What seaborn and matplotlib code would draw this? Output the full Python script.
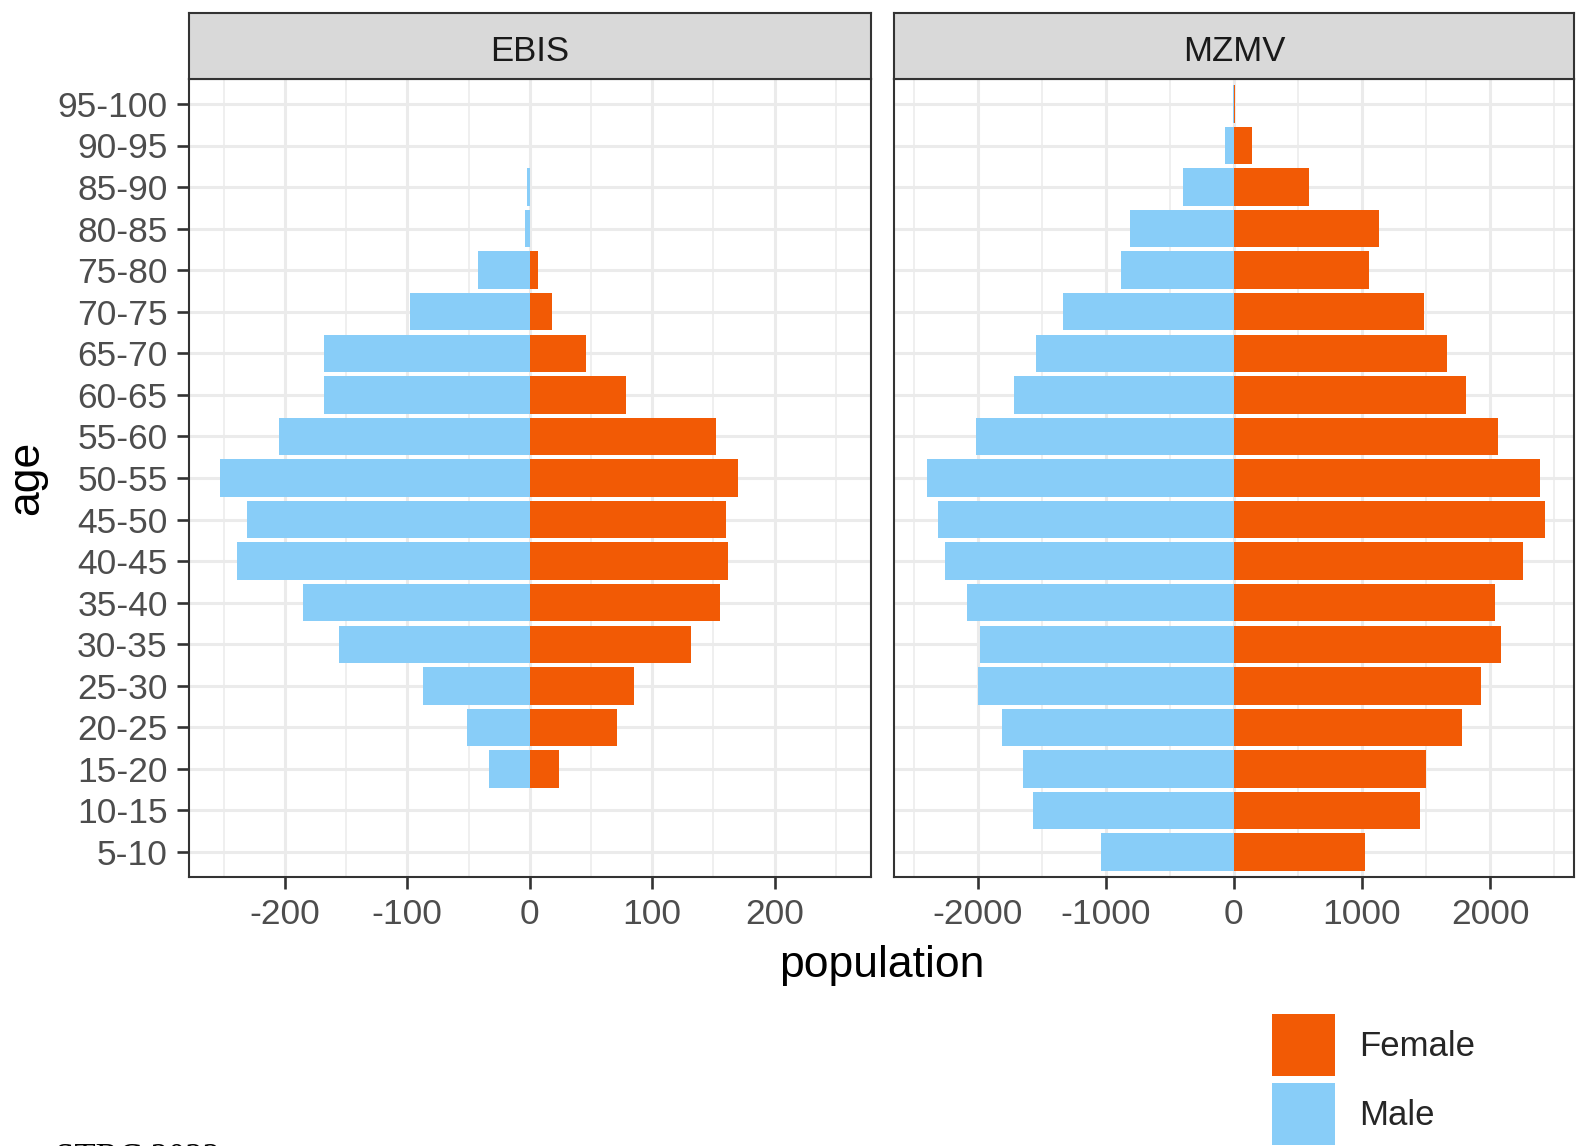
import numpy as np
import pandas as pd
import matplotlib
matplotlib.use("Agg")
import matplotlib.pyplot as plt
import seaborn as sns
from matplotlib.patches import Patch
from matplotlib.ticker import MultipleLocator

# ---- data -------------------------------------------------------------
age_groups = ["5-10", "10-15", "15-20", "20-25", "25-30", "30-35", "35-40",
              "40-45", "45-50", "50-55", "55-60", "60-65", "65-70", "70-75",
              "75-80", "80-85", "85-90", "90-95", "95-100"]

nan = np.nan
ebis_female = [nan, nan, 24, 71, 85, 132, 155, 162, 160, 170, 152, 79, 46,
               18, 7, nan, nan, nan, nan]
ebis_male = [nan, nan, 33, 51, 87, 156, 185, 239, 231, 253, 205, 168, 168,
             98, 42, 4, 2.5, nan, nan]

mzmv_female = [1020, 1451, 1498, 1780, 1929, 2086, 2039, 2259, 2431, 2392,
               2063, 1812, 1663, 1482, 1058, 1129, 585, 140, 12]
mzmv_male = [1035, 1569, 1647, 1812, 2000, 1984, 2086, 2259, 2309, 2392,
             2016, 1718, 1545, 1333, 881, 811, 400, 70, 4]

surveys = ["EBIS", "MZMV"]
sexes = ["Female", "Male"]
colors = {"Female": "#F25A05", "Male": "#88CDF8"}


def survey_frame(name, female, male):
    f = pd.DataFrame({"age": age_groups, "population": female, "sex": "Female"})
    m = pd.DataFrame({"age": age_groups, "population": -np.asarray(male, float),
                      "sex": "Male"})
    d = pd.concat([f, m], ignore_index=True)
    d["survey"] = name
    return d.dropna(subset=["population"])


df = pd.concat([survey_frame("EBIS", ebis_female, ebis_male),
                survey_frame("MZMV", mzmv_female, mzmv_male)],
               ignore_index=True)

# ---- style ------------------------------------------------------------
sns.set_theme(style="white")
plt.rcParams["font.family"] = ["Liberation Sans", "DejaVu Sans"]

W, H = 1576, 1146
fig = plt.figure(figsize=(W / 100, H / 100), dpi=100)


def fx(px):
    return px / W


def fy(py):
    return 1 - py / H


panel_top, panel_bot = 79, 877
strip_top = 13
panels = [(189, 870.5), (894.3, 1573.5)]
limits = {"EBIS": 278.3, "MZMV": 2651}
majors = {"EBIS": 100, "MZMV": 1000}

order_top_down = age_groups[::-1]
border = "#333333"
grid_c = "#EBEBEB"

for i, (name, (x0, x1)) in enumerate(zip(surveys, panels)):
    ax = fig.add_axes([fx(x0), fy(panel_bot), fx(x1) - fx(x0),
                       fy(panel_top) - fy(panel_bot)])
    sub = df[df["survey"] == name]
    sns.barplot(data=sub, x="population", y="age", hue="sex",
                order=order_top_down, hue_order=sexes, palette=colors,
                dodge=False, orient="h", width=0.9, legend=False,
                linewidth=0, saturation=1, ax=ax, zorder=3)
    lim = limits[name]
    ax.set_xlim(-lim, lim)
    ax.set_ylim(len(age_groups) - 0.4, -0.6)
    ax.xaxis.set_major_locator(MultipleLocator(majors[name]))
    ax.xaxis.set_minor_locator(MultipleLocator(majors[name] / 2))
    ax.grid(True, which="major", color=grid_c, lw=2.2, zorder=0)
    ax.grid(True, which="minor", axis="x", color=grid_c, lw=1.1, zorder=0)
    ax.set_axisbelow(True)
    ax.set_xlabel("")
    ax.set_ylabel("")
    ax.xaxis.set_major_formatter(plt.FuncFormatter(
        lambda v, p: "0" if abs(v) < 1e-9 else f"{v:.0f}"))
    ax.tick_params(axis="both", which="major", labelsize=25.5,
                   labelcolor="#4D4D4D", color=border, length=8.3, width=1.9,
                   pad=7, bottom=True, left=(i == 0))
    ax.tick_params(axis="x", which="minor", length=0)
    if i > 0:
        ax.tick_params(axis="y", labelleft=False, left=False)
    for s in ax.spines.values():
        s.set_color(border)
        s.set_linewidth(1.5)
        s.set_visible(True)

    # facet strip
    sax = fig.add_axes([fx(x0), fy(panel_top), fx(x1) - fx(x0),
                        fy(strip_top) - fy(panel_top)])
    sax.set_facecolor("#D9D9D9")
    sax.set_xticks([])
    sax.set_yticks([])
    for s in sax.spines.values():
        s.set_color(border)
        s.set_linewidth(1.5)
        s.set_visible(True)
    sax.text(0.5, 0.47, name, ha="center", va="center_baseline", fontsize=25,
             color="#1A1A1A", transform=sax.transAxes)

fig.text(fx(881.5), fy(966), "population", ha="center", va="center",
         fontsize=32, color="black")
fig.text(fx(27), fy(478), "age", ha="center", va="center", rotation=90,
         fontsize=32, color="black")

handles = [Patch(facecolor=colors[s], edgecolor="none", label=s) for s in sexes]
fig.legend(handles=handles, loc="upper left",
           bbox_to_anchor=(fx(1272), fy(1014)), frameon=False, fontsize=25,
           handlelength=1.8, handleheight=2.37, labelspacing=0.2,
           handletextpad=0.72, borderpad=0, borderaxespad=0)

fig.text(fx(55), fy(1143), "STRC 2022", ha="left", va="top", fontsize=25,
         family=["Liberation Serif", "DejaVu Serif"], color="black")

fig.savefig("out.png", dpi=100)
